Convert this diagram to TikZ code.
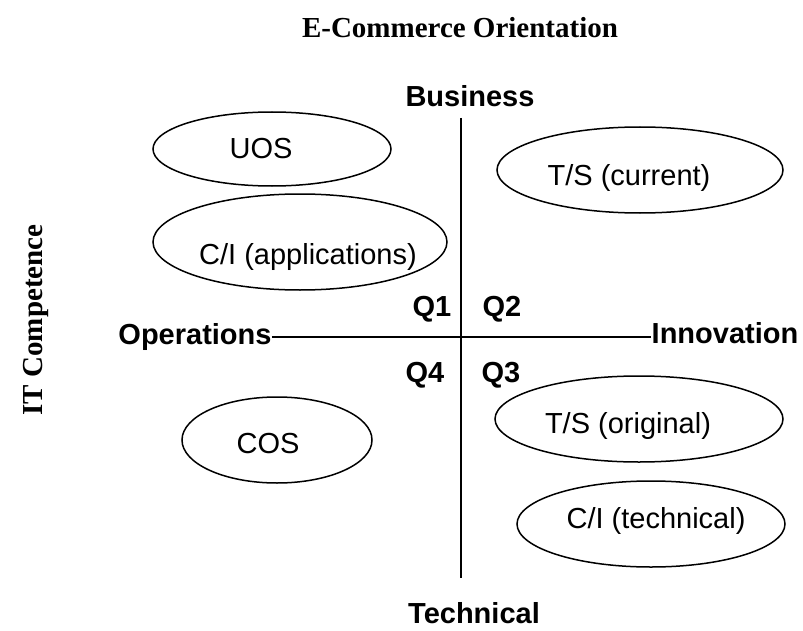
\documentclass[tikz,border=0pt]{standalone}
\usepackage{fontspec}
\setmainfont{Liberation Serif}
\setsansfont{Liberation Sans}
\usetikzlibrary{shapes.geometric}

\begin{document}
\begin{tikzpicture}[x=0.5pt,y=-0.5pt,
            title/.style={font=\rmfamily\bfseries\fontsize{14.5}{17}\selectfont,inner sep=0,anchor=base},
            axis label/.style={font=\sffamily\bfseries\fontsize{14.5}{17}\selectfont,inner sep=0,anchor=base},
            oval/.style={ellipse,draw,line width=0.75pt,inner sep=0,outer sep=0},
            oval text/.style={font=\sffamily\fontsize{14.5}{17}\selectfont,inner sep=0,anchor=base}]
            \useasboundingbox (0,0) rectangle (803,631);
            \node[title] (orient) at (460,38) {E-Commerce Orientation};
            \node[title,rotate=90] (itc) at (42,320) {IT Competence};
            %==================
            \node[axis label] (bus) at (470,107) {Business};
            \node[axis label] (tech) at (474,623) {Technical};
            \node[axis label] (ops) at (195,344) {Operations};
            \node[axis label] (inno) at (725,343) {Innovation};
            \coordinate (top) at (461,118);
            \coordinate (bottom) at (461,578);
            \coordinate (mid) at (461,337);
            \draw[line width=0.75pt] (top) -- (bottom);
            \draw[line width=0.75pt] (ops.east |- mid) -- (inno.west |- mid);
            % ===================
            \foreach \q/\px/\py in {1/432/316,2/502/316,3/501/382,4/425/382}{
            \node[axis label] (q\q) at (\px,\py) {Q\q};
            }
            % ===================
            \node[oval,minimum width=119pt,minimum height=37pt] (uos) at (272,149) {};
            \node[oval,minimum width=147pt,minimum height=48pt] (cia) at (300,242) {};
            \node[oval,minimum width=95pt,minimum height=43pt] (cos) at (277,440) {};
            \node[oval,minimum width=143pt,minimum height=43pt] (tsc) at (640,170) {};
            \node[oval,minimum width=144pt,minimum height=43pt] (tso) at (639,419) {};
            \node[oval,minimum width=134pt,minimum height=43pt] (cit) at (651,524) {};
            % ===================
            \node[oval text] (uos text) at (261,158) {UOS};
            \node[oval text] (cia text) at (308,264) {C/I (applications)};
            \node[oval text] (cos text) at (268,453) {COS};
            \node[oval text] (tsc text) at (629,185) {T/S (current)};
            \node[oval text] (tso text) at (628,433) {T/S (original)};
            \node[oval text] (cit text) at (656,528) {C/I (technical)};
        \end{tikzpicture}
\end{document}
